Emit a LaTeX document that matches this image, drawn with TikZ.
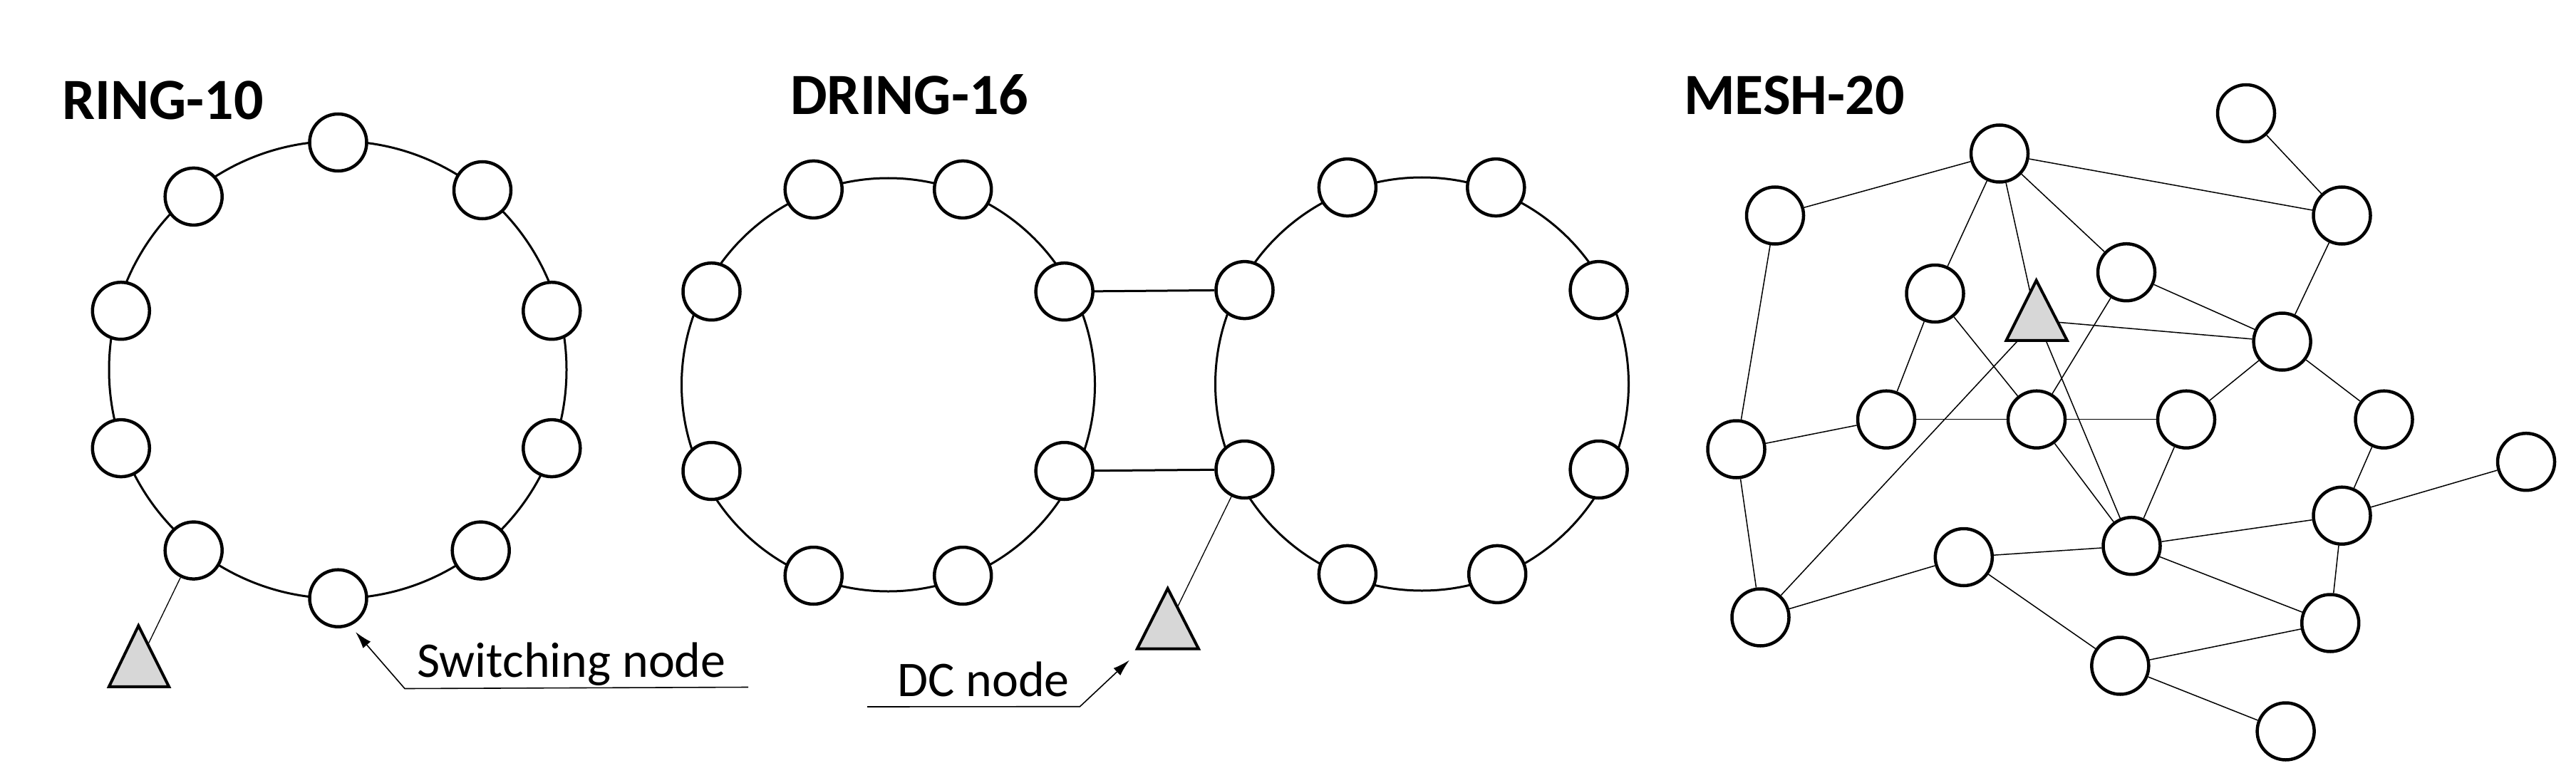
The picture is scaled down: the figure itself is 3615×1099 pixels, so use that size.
\documentclass[tikz,border=0pt]{standalone}
\usepackage{fontspec}
\setmainfont{Carlito}
\usetikzlibrary{backgrounds,arrows.meta}
\definecolor{trigray}{RGB}{215,215,215}
\begin{document}
\begin{tikzpicture}[x=1pt,y=-1pt,
  sw/.style={circle, draw=black, line width=4.5pt, fill=white, minimum size=80pt, inner sep=0pt},
  ringline/.style={line width=3pt},
  bridge/.style={line width=3pt},
  link/.style={line width=1.5pt},
  dclink/.style={line width=1.3pt},
  tri/.style={draw=black, line width=4pt, fill=trigray, line join=miter},
  title/.style={font=\fontsize{82pt}{96pt}\selectfont\bfseries, anchor=base west, inner sep=0pt},
  lbl/.style={font=\fontsize{70pt}{84pt}\selectfont, anchor=base west, inner sep=0pt},
  pointer/.style={line width=1.6pt, -{Latex[length=24pt,width=14pt]}},
]
\useasboundingbox (0,0) rectangle (3615,1099);

% ---------------- titles
\node[title] (tRing)  at (87,168)   {RING-10};
\node[title] (tDring) at (1109,161) {DRING-16};
\node[title] (tMesh)  at (2363,161) {MESH-20};

% ---------------- ring centres
\coordinate (ringC)  at (474,519);
\coordinate (dringL) at (1246.5,540);
\coordinate (dringR) at (1995.5,539);

% ---------------- RING-10
\node[sw] (r1)  at (474.5,200) {};
\node[sw] (r2)  at (677,267) {};
\node[sw] (r3)  at (774.3,436.2) {};
\node[sw] (r4)  at (774.3,629.1) {};
\node[sw] (r5)  at (674.7,772.6) {};
\node[sw] (r6)  at (474.5,839.7) {};
\node[sw] (r7)  at (271.7,772.6) {};
\node[sw] (r8)  at (169.8,629.1) {};
\node[sw] (r9)  at (169.8,436.2) {};
\node[sw] (r10) at (271.7,275.9) {};
\coordinate (dc1A) at (194.3,878.3);
\coordinate (dc1B) at (237.1,963.9);
\coordinate (dc1C) at (152.9,963.9);
\coordinate (dc1hit) at (207.6,904.9);
\draw[tri] (dc1A) -- (dc1B) -- (dc1C) -- cycle;

% ---------------- DRING-16 (left ring)
\node[sw] (d1) at (1141.7,265.9) {};
\node[sw] (d2) at (1351.2,265.9) {};
\node[sw] (d3) at (1493.6,409.2) {};
\node[sw] (d4) at (1493.6,661) {};
\node[sw] (d5) at (1351.2,808) {};
\node[sw] (d6) at (1141.7,808) {};
\node[sw] (d7) at (998.5,661) {};
\node[sw] (d8) at (998.5,409.2) {};
% right ring
\node[sw] (e1) at (1890.9,263.1) {};
\node[sw] (e2) at (2099.3,263.1) {};
\node[sw] (e3) at (2243.6,407.1) {};
\node[sw] (e4) at (2243.6,659) {};
\node[sw] (e5) at (2101.2,805.9) {};
\node[sw] (e6) at (1890.9,805.9) {};
\node[sw] (e7) at (1746.5,659) {};
\node[sw] (e8) at (1746.5,407.1) {};
\coordinate (dc2A) at (1638.7,826);
\coordinate (dc2B) at (1682,910.7);
\coordinate (dc2C) at (1595.8,910.7);
\coordinate (dc2hit) at (1652.2,852.5);
\draw[tri] (dc2A) -- (dc2B) -- (dc2C) -- cycle;

% ---------------- MESH-20
\node[sw] (mA) at (2806,215.5) {};
\node[sw] (mB) at (2491,302.5) {};
\node[sw] (mC) at (3152,159) {};
\node[sw] (mD) at (3286.5,302.5) {};
\node[sw] (mE) at (2715.5,412) {};
\node[sw] (mF) at (2984,382.2) {};
\node[sw] (mG) at (3202.6,479.5) {};
\node[sw] (mH) at (2436.5,630.5) {};
\node[sw] (mI) at (2647,588.7) {};
\node[sw] (mJ) at (2858,588.7) {};
\node[sw] (mK) at (3068,588.7) {};
\node[sw] (mL) at (3345.5,588.7) {};
\node[sw] (mM) at (3545,648.2) {};
\node[sw] (mN) at (3286.5,723.7) {};
\node[sw] (mO) at (2991.5,766.2) {};
\node[sw] (mP) at (2755.8,782) {};
\node[sw] (mQ) at (2470.5,866.5) {};
\node[sw] (mR) at (3270.2,874.5) {};
\node[sw] (mS) at (2975.3,934.5) {};
\node[sw] (mU) at (3207.6,1026.5) {};
\coordinate (dc3A) at (2857.6,393.5);
\coordinate (dc3B) at (2900.8,477.8);
\coordinate (dc3C) at (2815.5,477.8);
\coordinate (tA) at (2849,410.5);
\coordinate (tG) at (2888,452.3);
\coordinate (tQ) at (2832,477.8);
\coordinate (tO) at (2871,477.8);
\draw[tri] (dc3A) -- (dc3B) -- (dc3C) -- cycle;

% ---------------- connectors (behind the nodes)
\begin{pgfonlayer}{background}
% ring links: each ring is one circle running through its switching nodes
\draw[ringline] (ringC) circle[radius=321];
\draw[ringline] (dringL) circle[radius=290];
\draw[ringline] (dringR) circle[radius=290];
\draw[dclink] (r7) -- (dc1hit);
\draw[bridge] (d3) -- (e8);
\draw[bridge] (d4) -- (e7);
\draw[dclink] (e7) -- (dc2hit);

\foreach \a/\b in {mA/mB, mA/mD, mA/mE, mA/mF, mC/mD, mD/mG, mF/mG, mE/mI, mE/mJ, mF/mJ,
                   mJ/mO, mI/mJ, mJ/mK, mH/mI, mB/mH, mH/mQ, mG/mK, mG/mL, mK/mO, mL/mN,
                   mN/mM, mO/mN, mO/mR, mN/mR, mP/mO, mQ/mP, mP/mS, mS/mR, mS/mU}
  \draw[link] (\a) -- (\b);
\draw[link] (mA) -- (tA);
\draw[link] (tG) -- (mG);
\draw[link] (tQ) -- (mQ);
\draw[link] (tO) -- (mO);
\end{pgfonlayer}

% ---------------- labels and pointers
\node[lbl] (swLbl) at (585,950) {Switching node};
\coordinate (swR) at (1050,964.5);
\coordinate (swK) at (568,966.5);
\coordinate (swT) at (499,887);
\draw[pointer] (swR) -- (swK) -- (swT);

\node[lbl] (dcLbl) at (1259,977.3) {DC node};
\coordinate (dcL) at (1217,992);
\coordinate (dcK) at (1515.5,991.7);
\coordinate (dcT) at (1585,926.5);
\draw[pointer] (dcL) -- (dcK) -- (dcT);
\end{tikzpicture}
\end{document}
